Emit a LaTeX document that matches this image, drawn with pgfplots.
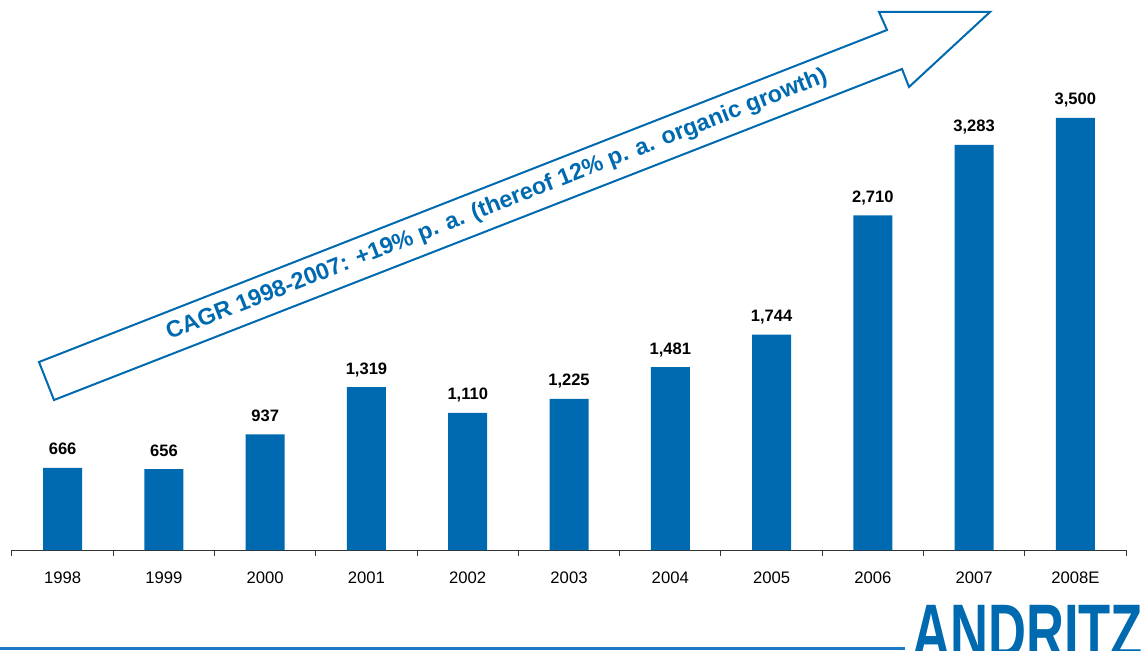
\documentclass[border=0pt]{standalone}
\usepackage{fontspec}
\setmainfont{Liberation Sans}
\usepackage{pgfplots}
\pgfplotsset{compat=1.18}
\definecolor{andritz}{RGB}{0,106,176}
\definecolor{lineblue}{RGB}{30,122,196}
\begin{document}
\begin{tikzpicture}
\begin{axis}[
  name=ax,
  scale only axis, width=835.5pt, height=370.3pt,
  clip=false,
  xmin=-0.5, xmax=10.5, ymin=0, ymax=4000,
  hide y axis,
  axis x line*=bottom,
  axis line style={black!80, line width=0.75pt},
  xtick={0,1,2,3,4,5,6,7,8,9,10},
  xticklabels={1998,1999,2000,2001,2002,2003,2004,2005,2006,2007,2008E},
  major tick length=0pt,
  minor xtick={-0.5,0.5,1.5,2.5,3.5,4.5,5.5,6.5,7.5,8.5,9.5,10.5},
  minor tick length=4.5pt,
  tick align=outside,
  tick style={black!80, line width=0.75pt},
  xticklabel style={font=\fontsize{12.5pt}{14pt}\selectfont, anchor=base, inner sep=0pt, yshift=-24.75pt},
  ybar, bar width=0.385,
  /pgf/number format/assume math mode=true,
  /pgf/number format/1000 sep={,},
  nodes near coords,
  every node near coord/.append style={font=\bfseries\fontsize{12.4pt}{14pt}\selectfont, anchor=base, inner sep=0pt, yshift=9.75pt, black},
]
\addplot[fill=andritz, draw=none] coordinates {
 (0,666) (1,656) (2,937) (3,1319) (4,1110) (5,1225) (6,1481) (7,1744) (8,2710) (9,3283) (10,3500)
};
\coordinate (O) at (rel axis cs:0,0);
\end{axis}
\begin{scope}[shift={(O)}]
\begin{scope}[xshift=-9pt, yshift=-75pt, x=0.75pt, y=0.75pt]
\draw[andritz, line width=1.5pt, fill=white, line join=miter]
  (39,288) -- (887,620) -- (879,638) -- (990,638) -- (909,563) -- (902,581) -- (54,250) -- cycle;
\node[andritz, rotate=21.4, font=\bfseries\fontsize{17.5pt}{20pt}\selectfont] at (497,445)
  {CAGR 1998-2007: +19\% p. a. (thereof 12\% p. a. organic growth)};
\draw[lineblue, line width=2.25pt] (0,2) -- (905,2);
\node[andritz, anchor=base west, inner sep=0pt, xscale=0.68, font=\bfseries\fontsize{58pt}{64pt}\selectfont] at (912,-8) {ANDRITZ};
\pgfresetboundingbox
\path[use as bounding box] (0,0) rectangle (1144,650);
\end{scope}
\end{scope}
\end{tikzpicture}
\end{document}
